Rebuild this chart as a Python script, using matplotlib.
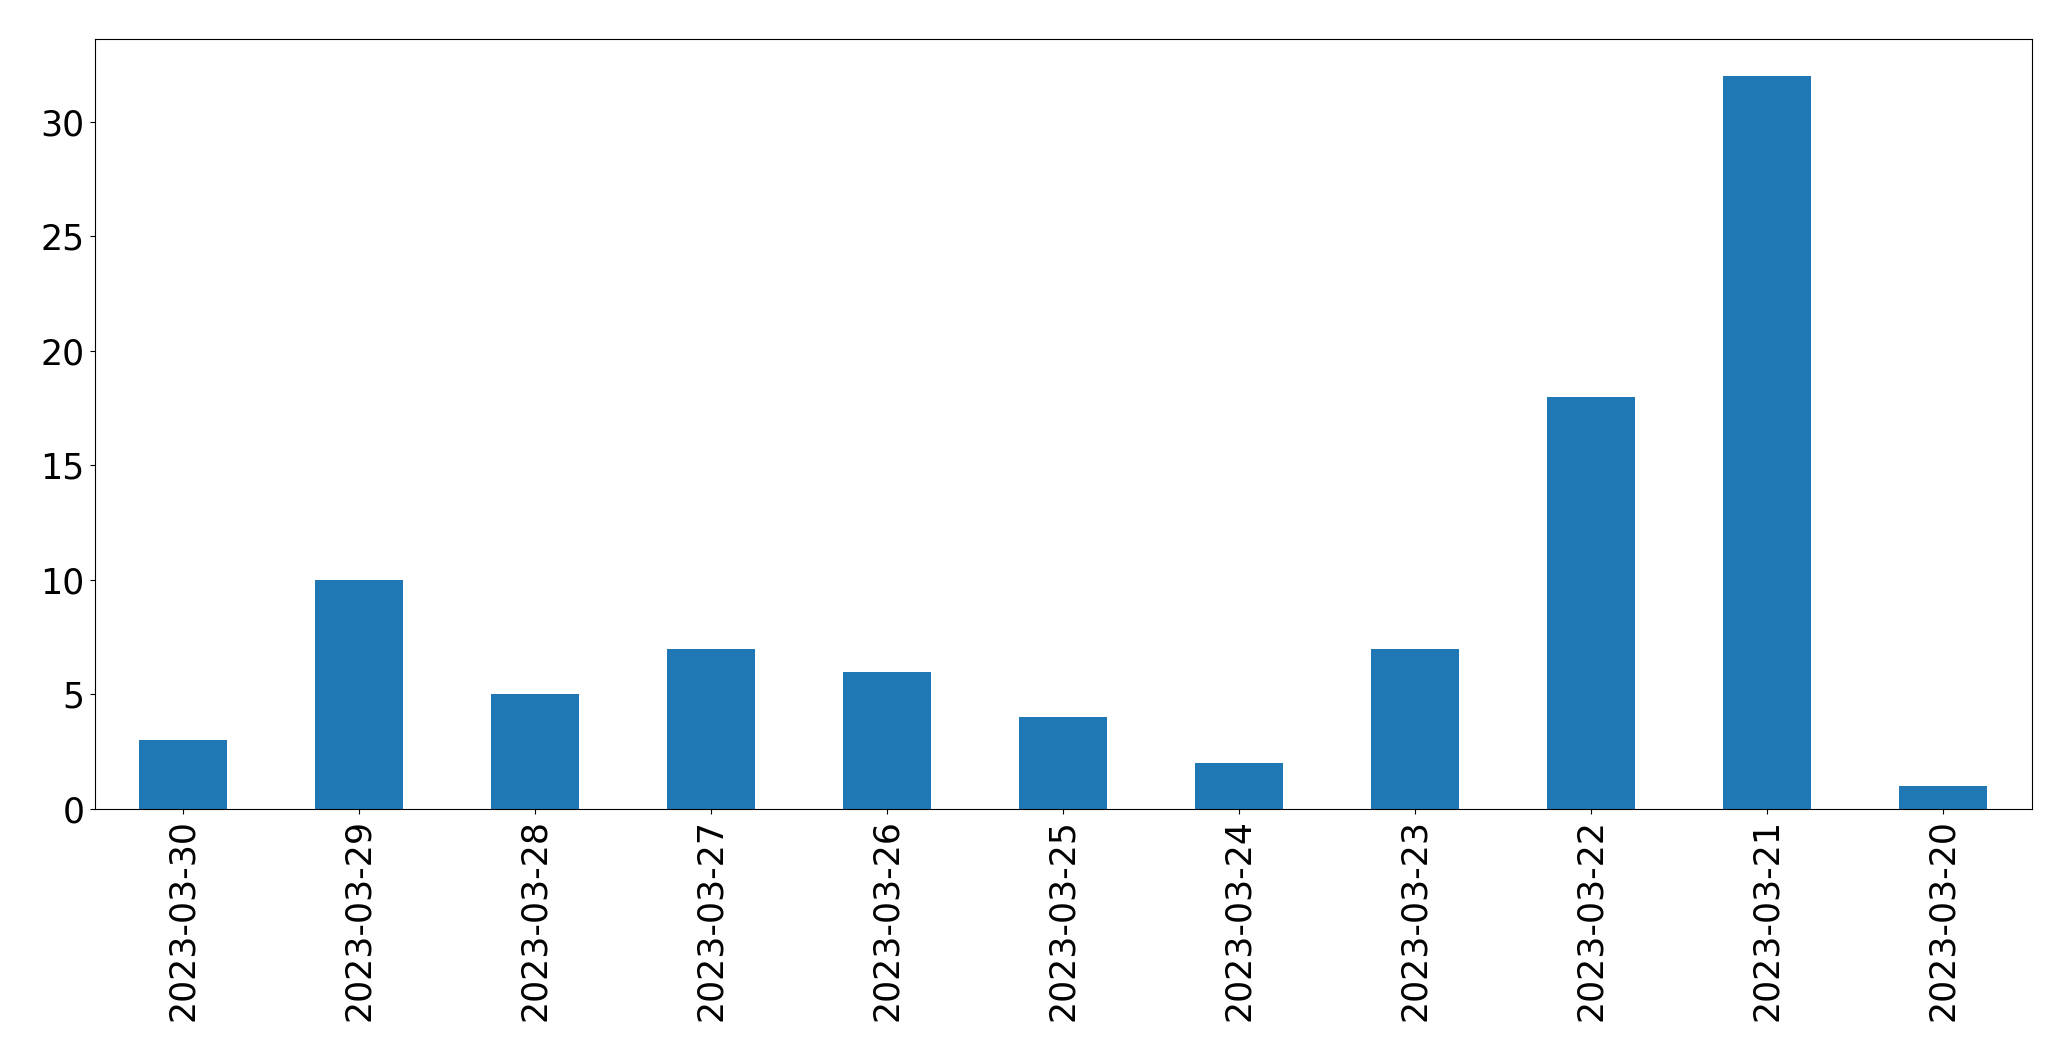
import matplotlib
matplotlib.use("Agg")
import matplotlib.pyplot as plt

# daily counts, newest first (as in the source listing)
dates = ["2023-03-30", "2023-03-29", "2023-03-28", "2023-03-27", "2023-03-26",
         "2023-03-25", "2023-03-24", "2023-03-23", "2023-03-22", "2023-03-21",
         "2023-03-20"]
counts = [3, 10, 5, 7, 6, 4, 2, 7, 18, 32, 1]

fig, ax = plt.subplots(figsize=(20.71, 10.61), dpi=100)
x = range(len(dates))
ax.bar(x, counts, width=0.5, color="#1f77b4")
ax.set_xticks(list(x))
ax.set_xticklabels(dates, rotation=90)
ax.set_xlim(-0.5, len(dates) - 0.5)
ax.tick_params(axis="both", labelsize=25)

fig.subplots_adjust(left=94.5 / 2071, right=2031.5 / 2071,
                    top=1 - 39 / 1061, bottom=1 - 809 / 1061)
fig.savefig("out.png", dpi=100)
